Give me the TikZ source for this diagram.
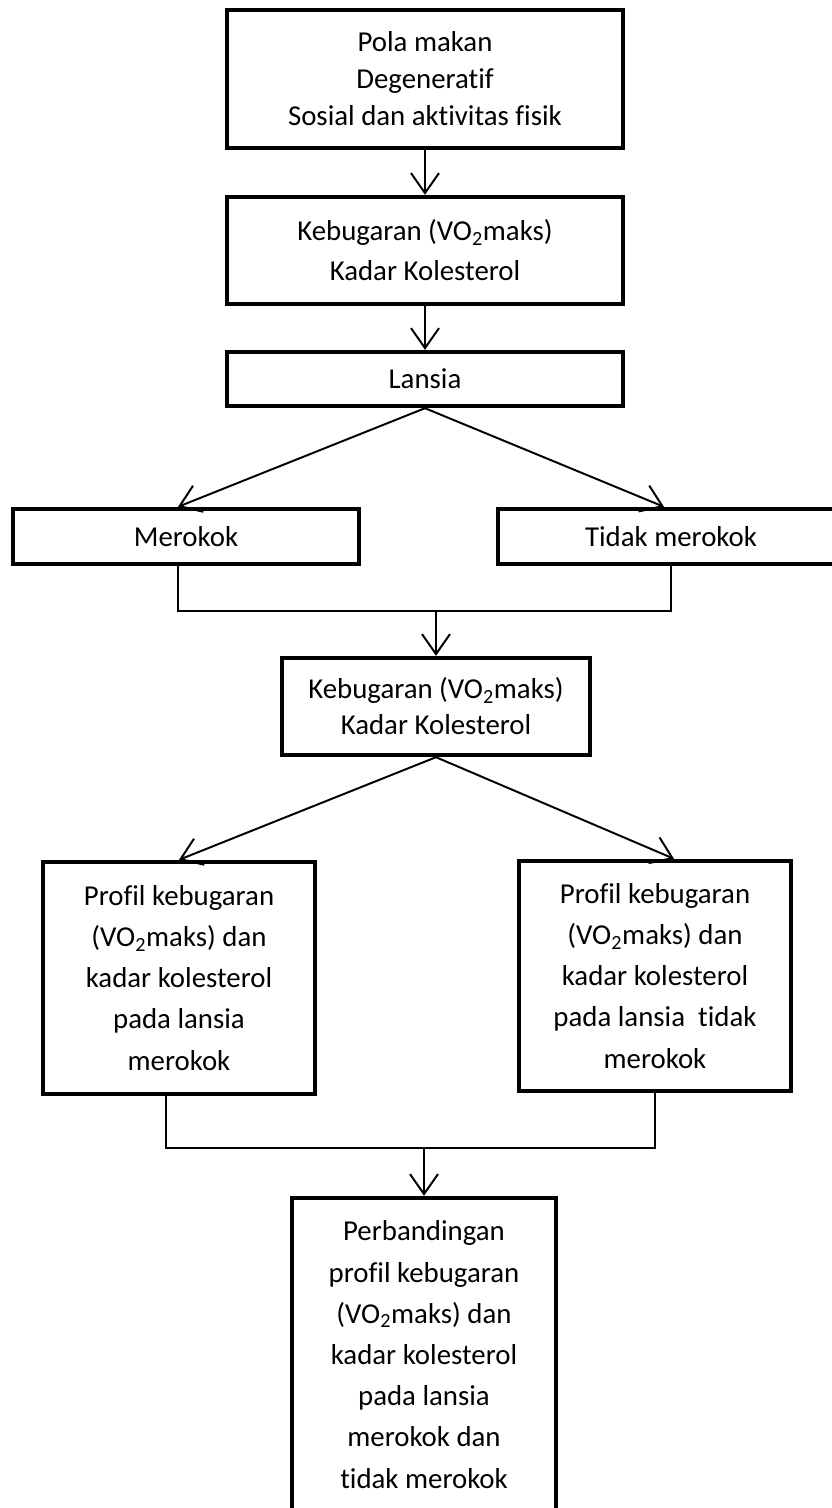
\documentclass[tikz,border=0pt]{standalone}
\usepackage{fontspec}
\setmainfont{Carlito}[Ligatures=NoCommon]
\usetikzlibrary{arrows.meta,positioning}

\tikzset{
  box/.style={draw, line width=3.1pt, align=center, inner sep=0pt},
  pitch/.style={font=\fontsize{20.5}{#1}\selectfont},
  arr/.style={line width=1.4pt, -{Straight Barb[length=5mm,width=7mm]}},
  link/.style={line width=0.9pt},
}

\begin{document}
\begin{tikzpicture}[x=0.025cm, y=-0.025cm]
  \useasboundingbox (0,0) rectangle (832,1508);
  % upper chain
  \node[box, pitch=26.3, minimum width=9.9cm, minimum height=3.45cm] (pola) at (425,79)
    {Pola makan\\Degeneratif\\Sosial dan aktivitas fisik};
  \node[box, pitch=28.5, minimum width=9.9cm, minimum height=2.675cm] (kebugaranA) at (425,250.5)
    {Kebugaran (VO\textsubscript{2}maks)\\Kadar Kolesterol};
  \node[box, pitch=28.5, minimum width=9.9cm, minimum height=1.35cm] (lansia) at (425,379) {Lansia};
  \node[box, pitch=28.5, minimum width=8.65cm, minimum height=1.375cm] (merokok) at (186,536.5) {Merokok};
  \node[box, pitch=28.5, minimum width=8.65cm, minimum height=1.375cm] (tidak) at (671,536.5) {Tidak merokok};
  \node[box, pitch=25.6, minimum width=7.7cm, minimum height=2.425cm] (kebugaranB) at (436,706.5)
    {Kebugaran (VO\textsubscript{2}maks)\\Kadar Kolesterol};
  % profiles
  \node[box, pitch=29.2, minimum width=6.8cm, minimum height=5.8cm] (profilA) at (179,978)
    {Profil kebugaran\\(VO\textsubscript{2}maks) dan\\kadar kolesterol\\pada lansia\\merokok};
  \node[box, pitch=29.2, minimum width=6.8cm, minimum height=5.75cm] (profilB) at (655,976)
    {Profil kebugaran\\(VO\textsubscript{2}maks) dan\\kadar kolesterol\\pada lansia\ \ tidak\\merokok};
  \node[box, pitch=29.3, minimum width=6.6cm, minimum height=7.825cm] (banding) at (424,1354.5)
    {Perbandingan\\profil kebugaran\\(VO\textsubscript{2}maks) dan\\kadar kolesterol\\pada lansia\\merokok dan\\tidak merokok};

  \coordinate (joinA) at (kebugaranB.north |- 0,611);
  \coordinate (joinB) at (banding.north |- 0,1148);

  \draw[arr] (pola) -- (kebugaranA);
  \draw[arr] (kebugaranA) -- (lansia);
  \draw[arr] (lansia.south) -- ([xshift=-0.2cm]merokok.north);
  \draw[arr] (lansia.south) -- ([xshift=-0.175cm]tidak.north);
  \draw[link] ([xshift=-0.2cm]merokok.south) |- (joinA) -| (tidak.south);
  \draw[arr] (joinA) -- (kebugaranB.north);
  \draw[arr] (kebugaranB.south) -- (profilA.north);
  \draw[arr] (kebugaranB.south) -- ([xshift=0.475cm]profilB.north);
  \draw[link] ([xshift=-0.325cm]profilA.south) |- (joinB) -| (profilB.south);
  \draw[arr] (joinB) -- (banding.north);
\end{tikzpicture}
\end{document}
